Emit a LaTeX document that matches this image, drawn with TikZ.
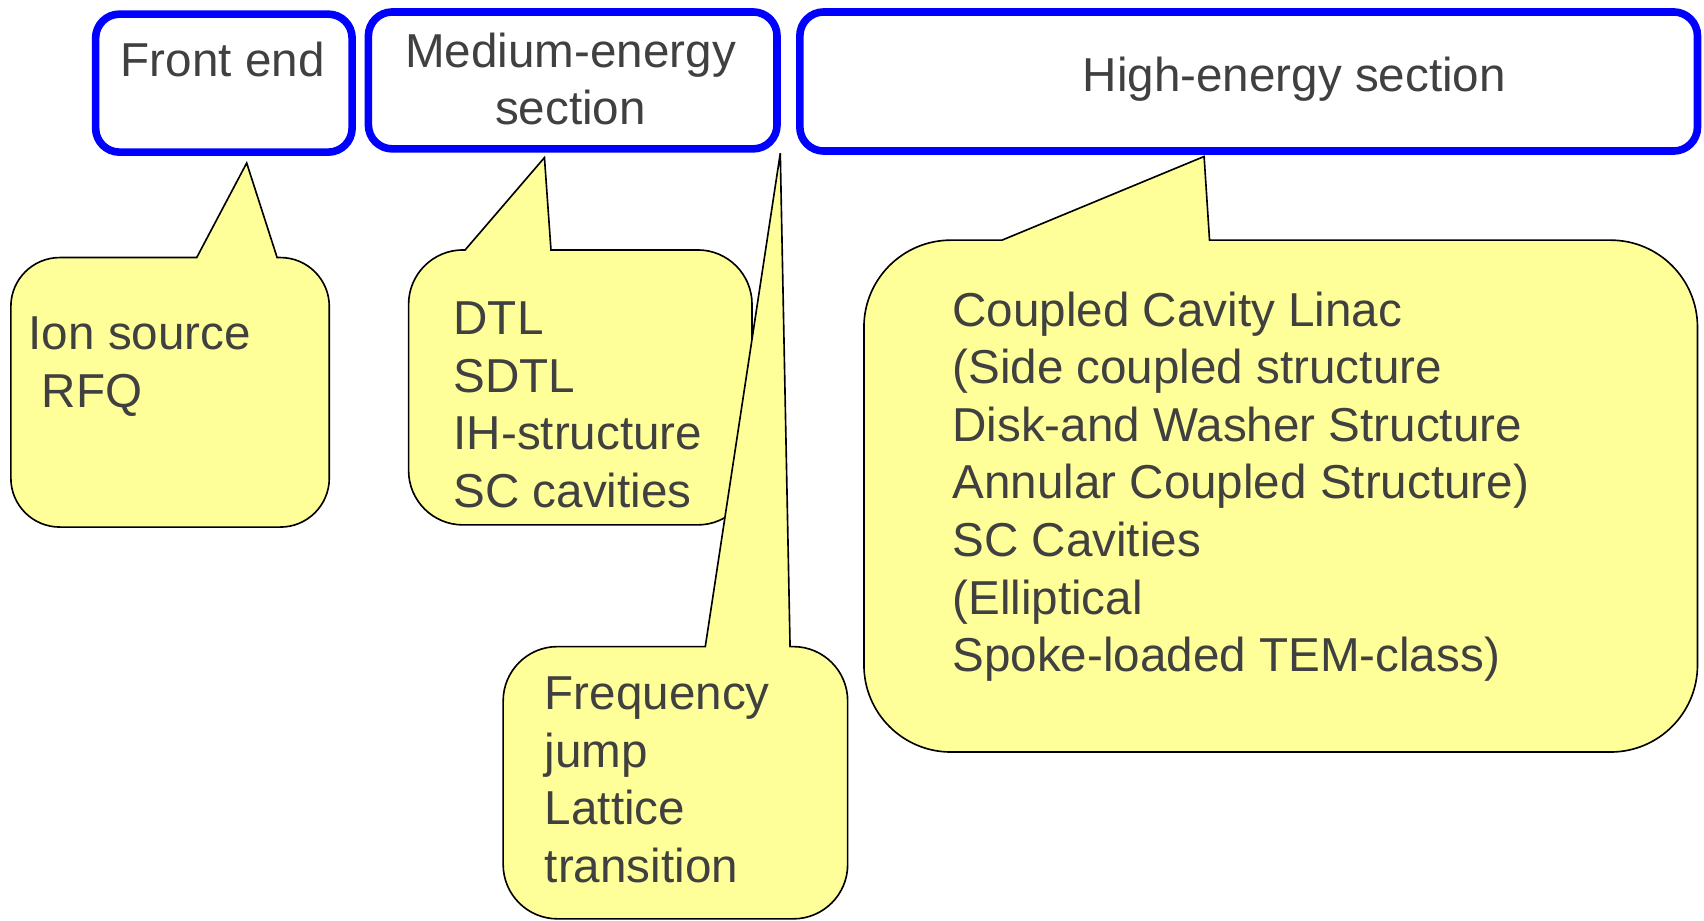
\documentclass[tikz,border=0pt]{standalone}
\usepackage{fontspec}
\setmainfont{Liberation Sans}
\definecolor{txtgray}{RGB}{64,64,64}
\definecolor{callfill}{RGB}{255,255,153}
\definecolor{hdrblue}{RGB}{0,0,255}
\begin{document}
\begin{tikzpicture}[x=0.5pt,y=0.5pt,
  hdr/.style={draw=hdrblue, line width=3.5pt, rounded corners=11pt, fill=white, inner sep=0pt},
  callout/.style={draw=black, fill=callfill, line width=0.75pt, line join=miter},
  txt/.style={text=txtgray, inner sep=0pt, font=\fontsize{21.9pt}{26.5pt}\selectfont}]
\useasboundingbox (0,0) rectangle (1568,847);
% header boxes
\node[hdr, minimum width=118pt, minimum height=63.5pt] (fe) at (206,770.5) {};
\node[hdr, minimum width=188pt, minimum height=63pt] (me) at (527,773) {};
\node[hdr, minimum width=413pt, minimum height=64pt] (he) at (1149,772) {};
% pointer tips
\coordinate (tipion) at (227,697);
\coordinate (tipdtl) at (501,702);
\coordinate (tipfreq) at (718,706);
\coordinate (tipccl) at (1108,703);
% callouts
\path[callout] (181,610) -- (tipion) -- (255,610) -- (258,610)
  arc[start angle=90,end angle=0,radius=45] -- (303,407)
  arc[start angle=0,end angle=-90,radius=45] -- (55,362)
  arc[start angle=-90,end angle=-180,radius=45] -- (10,565)
  arc[start angle=180,end angle=90,radius=45] -- cycle;
\path[callout] (428,617) -- (tipdtl) -- (507,617) -- (642,617)
  arc[start angle=90,end angle=0,radius=50] -- (692,414)
  arc[start angle=0,end angle=-90,radius=50] -- (426,364)
  arc[start angle=-90,end angle=-180,radius=50] -- (376,567)
  arc[start angle=180,end angle=90,radius=50] -- cycle;
\path[callout] (649,252) -- (tipfreq) -- (727,252) -- (730,252)
  arc[start angle=90,end angle=0,radius=50] -- (780,51.5)
  arc[start angle=0,end angle=-90,radius=50] -- (513,1.5)
  arc[start angle=-90,end angle=-180,radius=50] -- (463,202)
  arc[start angle=180,end angle=90,radius=50] -- cycle;
\path[callout] (922,626) -- (tipccl) -- (1113,626) -- (1482,626)
  arc[start angle=90,end angle=0,radius=80] -- (1562,235)
  arc[start angle=0,end angle=-90,radius=80] -- (875,155)
  arc[start angle=-90,end angle=-180,radius=80] -- (795,546)
  arc[start angle=180,end angle=90,radius=80] -- cycle;
% header texts
\node[txt, anchor=base] (fet) at (205,777) {Front end};
\node[txt, anchor=base] (met) at (525,785) {\begin{tabular}[t]{@{}c@{}}Medium-energy\\section\end{tabular}};
\node[txt, anchor=base] (het) at (1191,763) {High-energy section};
% callout texts
\node[txt, anchor=base west] (iont) at (26,525) {\begin{tabular}[t]{@{}l@{}}Ion source\\~RFQ\end{tabular}};
\node[txt, anchor=base west] (dtlt) at (417,539) {\begin{tabular}[t]{@{}l@{}}DTL\\SDTL\\IH-structure\\SC cavities\end{tabular}};
\node[txt, anchor=base west] (freqt) at (501,194) {\begin{tabular}[t]{@{}l@{}}Frequency\\jump\\Lattice\\transition\end{tabular}};
\node[txt, anchor=base west] (cclt) at (876,547) {\begin{tabular}[t]{@{}l@{}}Coupled Cavity Linac\\(Side coupled structure\\Disk-and Washer Structure\\Annular Coupled Structure)\\SC Cavities\\(Elliptical\\Spoke-loaded TEM-class)\end{tabular}};
\end{tikzpicture}
\end{document}
